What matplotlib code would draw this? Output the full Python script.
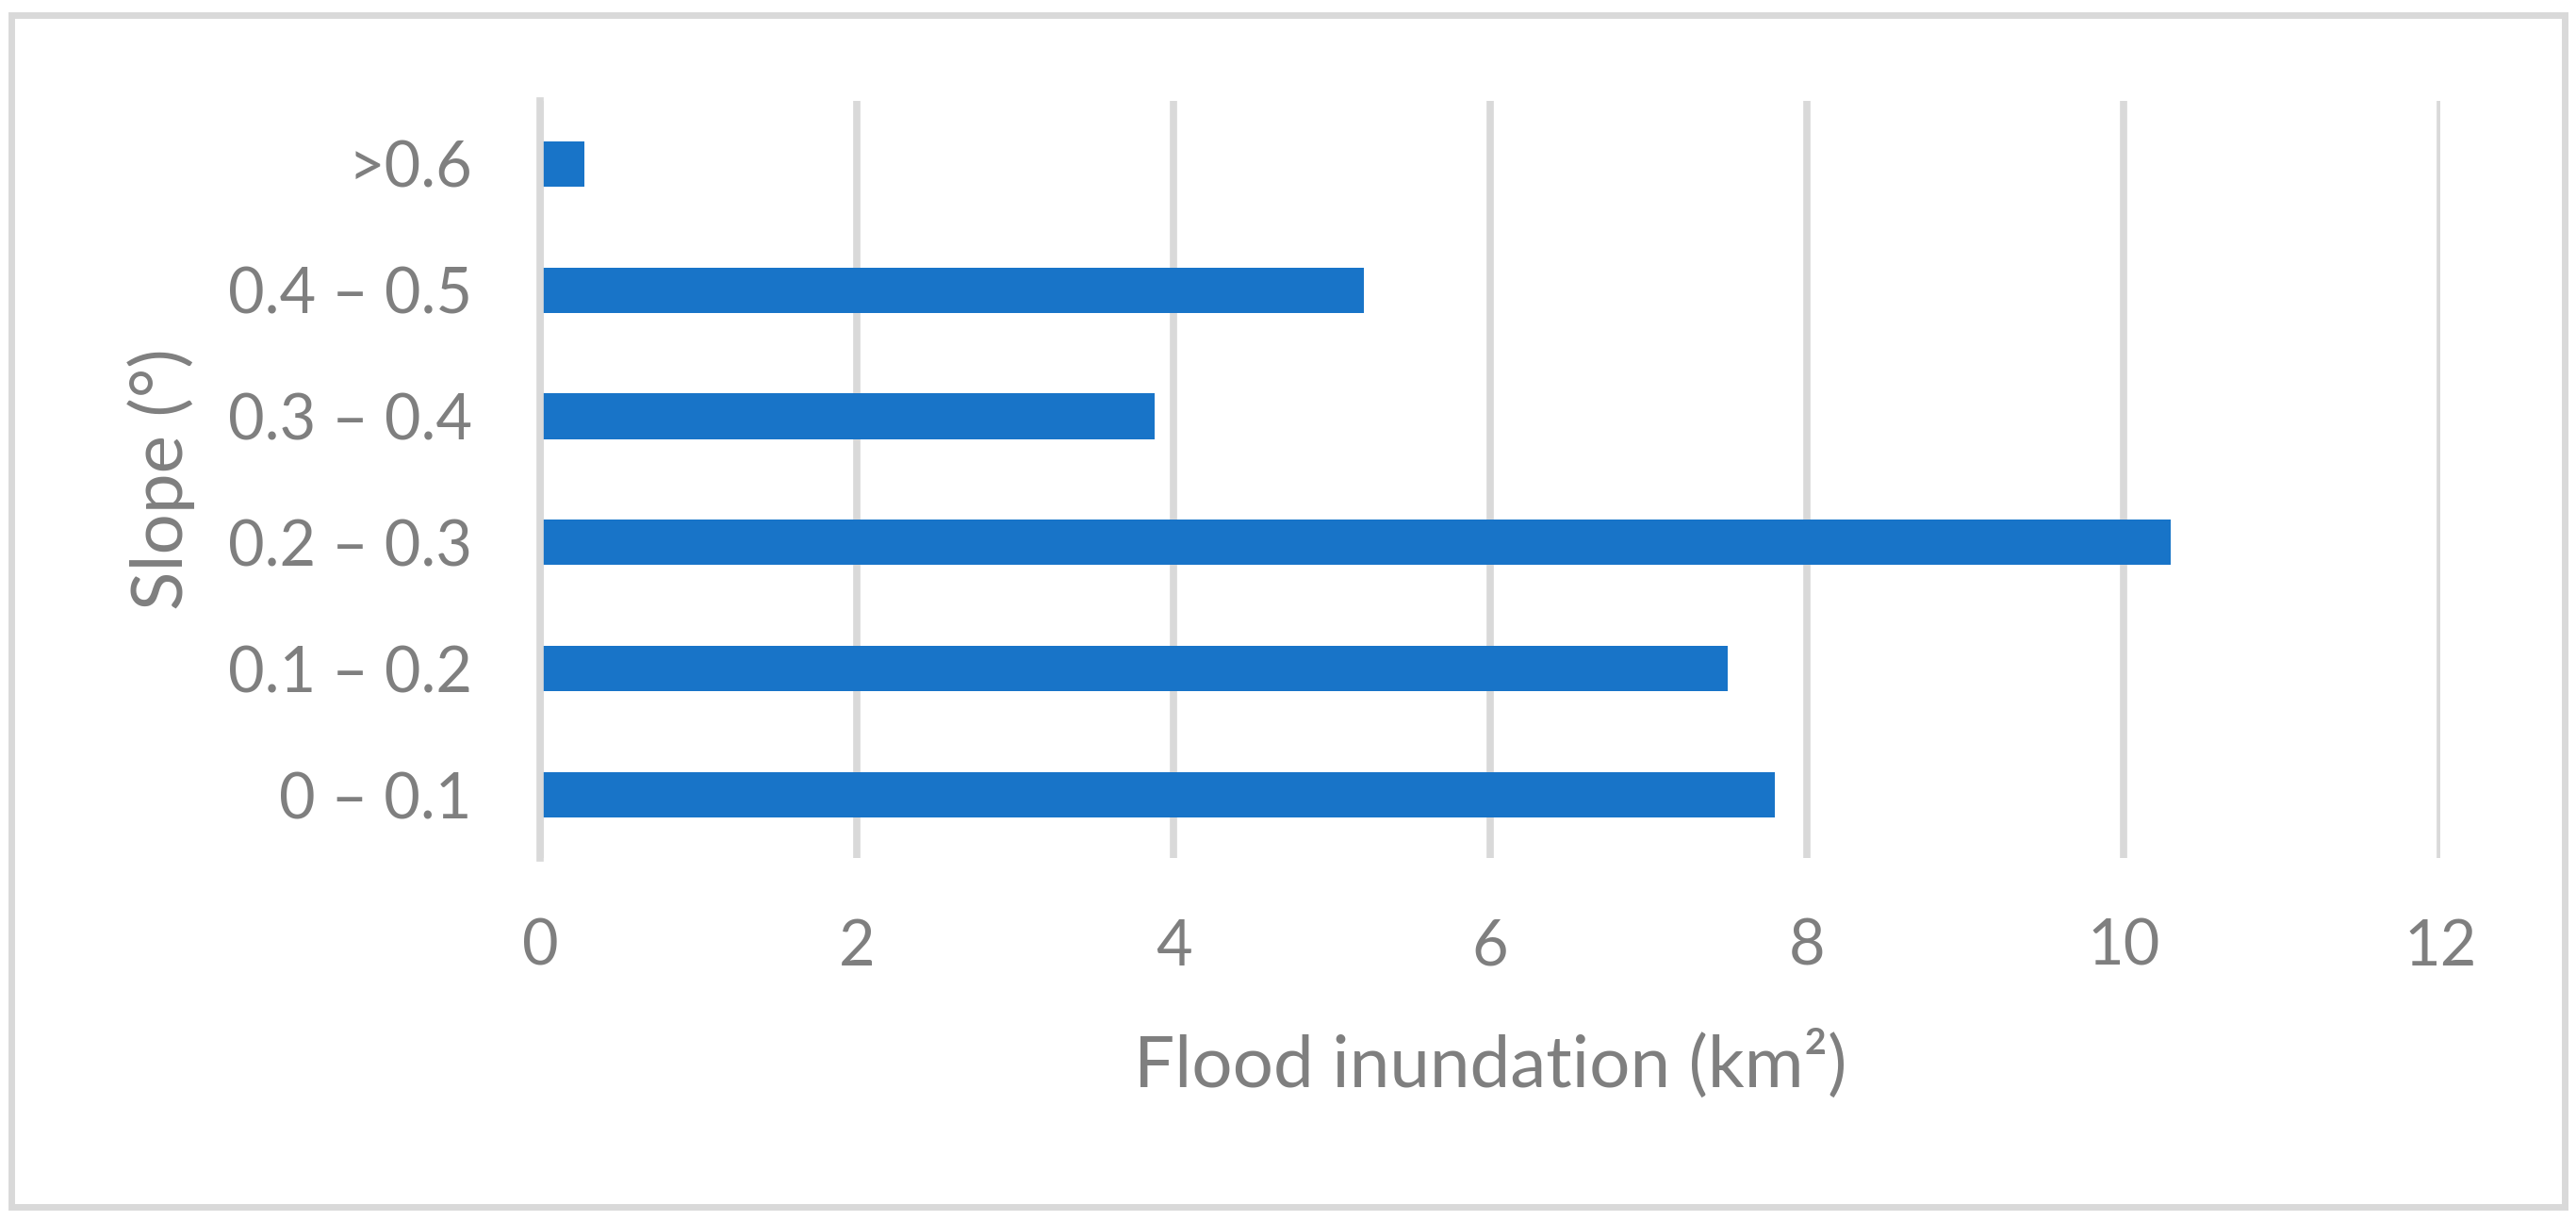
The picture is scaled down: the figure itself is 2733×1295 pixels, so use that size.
import matplotlib.pyplot as plt
from matplotlib.patches import Rectangle

plt.rcParams['font.family'] = ['Lato', 'DejaVu Sans']

# slope classes (bottom to top) and flooded area in km2
slope_classes = ["0 \u2013 0.1", "0.1 \u2013 0.2", "0.2 \u2013 0.3",
                 "0.3 \u2013 0.4", "0.4 \u2013 0.5", ">0.6"]
flood_area = [7.8, 7.5, 10.3, 3.88, 5.2, 0.28]
x_ticks = [0, 2, 4, 6, 8, 10, 12]

bar_color = "#1874c8"
grid_color = "#d9d9d9"
text_color = "#7f7f7f"

fig = plt.figure(figsize=(27.33, 12.95), dpi=100)
ax = fig.add_axes([0.2097, 0.2973, 0.7376, 0.6201])

ypos = range(len(slope_classes))
ax.barh(ypos, flood_area, height=0.36, color=bar_color, zorder=2)

ax.set_xlim(0, 12)
ax.set_ylim(-0.5, len(slope_classes) - 0.5)
ax.set_xticks(x_ticks)
ax.set_xticklabels([str(t) for t in x_ticks])
ax.set_yticks(list(ypos))
ax.set_yticklabels(slope_classes)

ax.set_axisbelow(True)
ax.grid(axis="x", color=grid_color, lw=5.5)
ax.grid(axis="y", visible=False)
for side in ["top", "right", "bottom"]:
    ax.spines[side].set_visible(False)
ax.spines["left"].set_color(grid_color)
ax.spines["left"].set_linewidth(5.5)
ax.spines["left"].set_zorder(3)

ax.tick_params(axis="both", length=0, labelsize=48, colors=text_color)
ax.tick_params(axis="y", pad=52)
ax.tick_params(axis="x", pad=46)

ax.set_xlabel("Flood inundation (km\u00b2)", fontsize=55, color=text_color,
              labelpad=40)
ax.set_ylabel("Slope (\u00b0)", fontsize=55, color=text_color, labelpad=25)

# light grey chart frame
fig.patches.append(Rectangle((0.0044, 0.0116), 0.9912, 0.976,
                             transform=fig.transFigure, fill=False,
                             edgecolor=grid_color, linewidth=5))

fig.savefig("out.png", dpi=100)
